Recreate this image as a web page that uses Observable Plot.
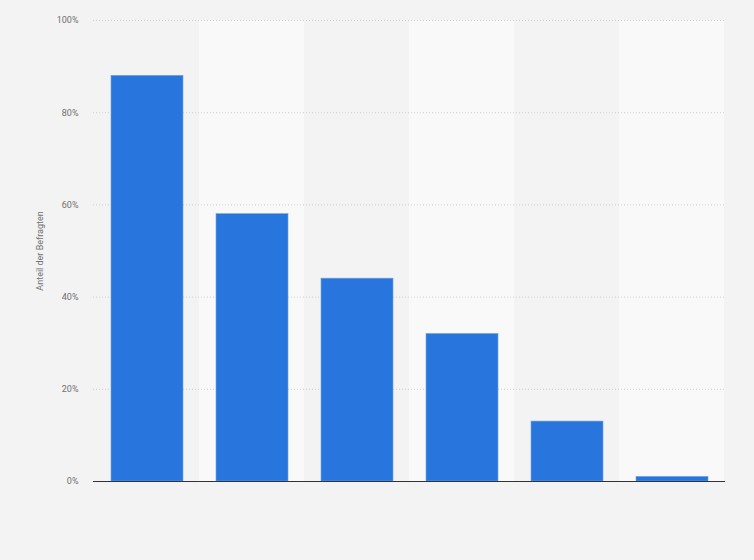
<!DOCTYPE html>
<html><head><meta charset="utf-8">
<script src="https://cdn.jsdelivr.net/npm/d3@7"></script>
<script src="https://cdn.jsdelivr.net/npm/@observablehq/plot@0.6"></script>
<style>
html,body{margin:0;padding:0;background:#f3f3f3;}
#chart{width:754px;height:560px;}
</style></head>
<body><div id="chart"></div>
<script>
const categories = ["1","2","3","4","5","6"];
const values = [88, 58, 44, 32, 13, 1];
const yTicks = [0, 20, 40, 60, 80, 100];
const yLabel = "Anteil der Befragten";

const data = categories.map((c, i) => ({category: c, value: values[i]}));
const bands = categories.filter((c, i) => i % 2 === 1);

const chart = Plot.plot({
  width: 754,
  height: 560,
  marginLeft: 93,
  marginRight: 29,
  marginTop: 20,
  marginBottom: 79,
  style: {background: "#f3f3f3", fontFamily: "Roboto, 'Liberation Sans', sans-serif", fontSize: "9px", color: "#707070"},
  x: {domain: categories, padding: 0, axis: null},
  y: {domain: [0, 100], ticks: yTicks, tickFormat: d => d + "%", tickSize: 0, tickPadding: 15,
      label: yLabel, labelAnchor: "center", labelArrow: "none", labelOffset: 57},
  marks: [
    Plot.barY(bands, {x: d => d, y1: 0, y2: 100, fill: "#f9f9f9"}),
    Plot.gridY(yTicks.filter(t => t > 0), {stroke: "#cfcfcf", strokeOpacity: 1, strokeDasharray: "1,2"}),
    Plot.barY(data, {x: "category", y: "value", fill: "#2876dd", insetLeft: 17, insetRight: 16, stroke: "#6fa3e8", strokeWidth: 0.6}),
    Plot.ruleY([0], {stroke: "#333", strokeWidth: 1.2})
  ]
});
document.getElementById("chart").appendChild(chart);
</script>
</body></html>
